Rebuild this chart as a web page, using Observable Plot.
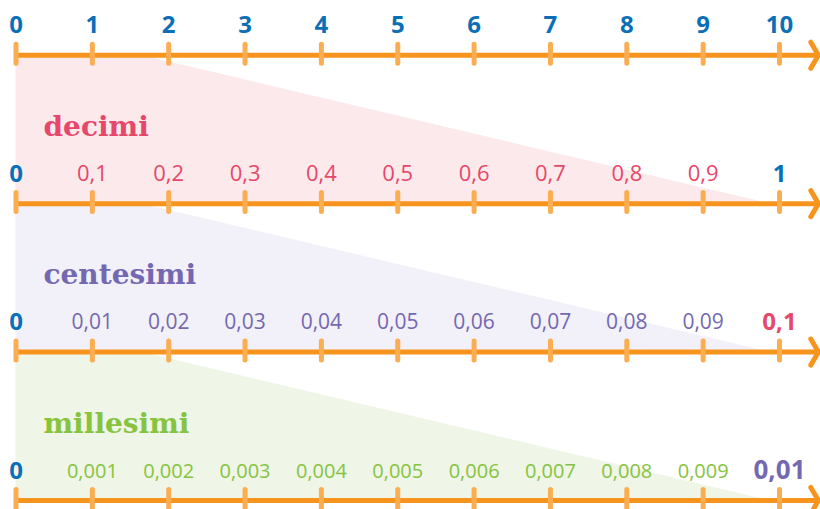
<!DOCTYPE html>
<html><head><meta charset="utf-8">
<script src="https://cdn.jsdelivr.net/npm/d3@7"></script>
<script src="https://cdn.jsdelivr.net/npm/@observablehq/plot@0.6"></script>
<style>body{margin:0;background:#fff}#chart svg{display:block}</style>
</head><body><div id="chart"></div>
<script>
// ---- data ----
const steps = [0, 1, 2, 3, 4, 5, 6, 7, 8, 9, 10];
const rows = [0, 1, 2, 3];
const unitLabels = ["0", "1", "2", "3", "4", "5", "6", "7", "8", "9", "10"];
const decimiLabels = ["0", "0,1", "0,2", "0,3", "0,4", "0,5", "0,6", "0,7", "0,8", "0,9", "1"];
const centesimiLabels = ["0", "0,01", "0,02", "0,03", "0,04", "0,05", "0,06", "0,07", "0,08", "0,09", "0,1"];
const millesimiLabels = ["0", "0,001", "0,002", "0,003", "0,004", "0,005", "0,006", "0,007", "0,008", "0,009", "0,01"];
const titles = ["decimi", "centesimi", "millesimi"];

// ---- styles ----
const BLUE = "#0b6fb8";
const rowColors = [BLUE, "#e5486b", "#7468b0", "#86c440"];
const bandFills = ["#fce9eb", "#f2f0f8", "#eff5e7"];
const LINE = "#f7941e";
const TICK = "#fbad52";
const labelSets = [unitLabels, decimiLabels, centesimiLabels, millesimiLabels];
const regularSize = [24, 22, 21, 20];
const boldEndSize = [24, 24, 24, 26];

// ---- derived tables ----
const labels = [];
labelSets.forEach((set, r) => {
  set.forEach((t, i) => {
    let color, bold, size;
    if (r === 0) { color = BLUE; bold = true; size = 24; }
    else if (i === 0) { color = BLUE; bold = true; size = 24; }
    else if (i === steps.length - 1) { color = rowColors[r - 1]; bold = true; size = boldEndSize[r]; }
    else { color = rowColors[r]; bold = false; size = regularSize[r]; }
    labels.push({row: r, step: steps[i], text: t, color, bold, size});
  });
});

const ticks = rows.flatMap(r => steps.map(s => ({row: r, step: s})));

const bandPts = titles.flatMap((t, b) => [
  {band: b, x: 0, top: b, bottom: b + 1, fill: bandFills[b]},
  {band: b, x: 1.63, top: b, bottom: b + 1, fill: bandFills[b]},
  {band: b, x: 9.86, top: b + 1, bottom: b + 1, fill: bandFills[b]}
]);

const chevrons = rows.flatMap(r => [
  {row: r, x: 10.41, y: r - 0.088},
  {row: r, x: 10.51, y: r},
  {row: r, x: 10.41, y: r + 0.088}
]);

const chart = Plot.plot({
  width: 820,
  height: 509,
  margin: 0,
  x: {type: "linear", domain: [0, 10], range: [15.5, 779], axis: null},
  y: {type: "linear", domain: [0, 3], range: [54.7, 500], axis: null},
  color: {type: "identity"},
  marks: [
    Plot.area(bandPts, {x1: "x", y1: "bottom", y2: "top", z: "band", fill: "fill", curve: "linear"}),
    Plot.text(titles, {
      x: () => 0.36, y: (d, i) => i + 1, text: d => d,
      fill: (d, i) => rowColors[i + 1],
      textAnchor: "start", lineAnchor: "bottom", dy: -68,
      fontFamily: "DejaVu Serif", fontWeight: "bold", fontSize: 28
    }),
    Plot.ruleY(rows, {y: d => d, x1: () => 0, x2: () => 10.5, stroke: LINE, strokeWidth: 5}),
    Plot.line(chevrons, {x: "x", y: "y", z: "row", stroke: LINE, strokeWidth: 5, strokeLinecap: "round", strokeLinejoin: "round"}),
    Plot.ruleX(ticks, {x: "step", y1: d => d.row - 0.071, y2: d => d.row + 0.057, stroke: TICK, strokeWidth: 5, strokeLinecap: "round"}),
    Plot.text(labels.filter(d => !d.bold), {
      x: "step", y: "row", text: "text", fill: "color", fontSize: d => d.size,
      lineAnchor: "bottom", dy: -23, fontFamily: "Open Sans"
    }),
    Plot.text(labels.filter(d => d.bold), {
      x: "step", y: "row", text: "text", fill: "color", fontSize: d => d.size,
      lineAnchor: "bottom", dy: -22, fontFamily: "Open Sans", fontWeight: "bold"
    })
  ]
});
document.getElementById("chart").appendChild(chart);
</script>
</body></html>
